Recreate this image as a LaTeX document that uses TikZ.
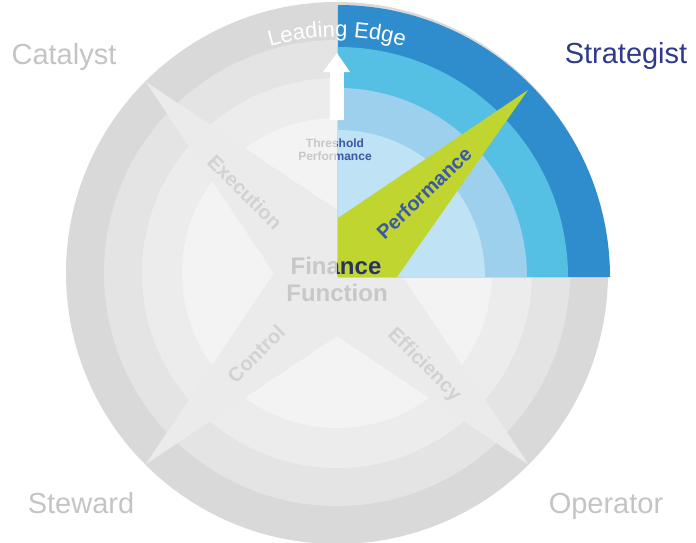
\documentclass[tikz,border=0pt]{standalone}
\usepackage{fontspec}
\setmainfont{Liberation Sans}
\usepackage{tikz}
\usetikzlibrary{positioning, decorations.text}

\definecolor{ringA}{HTML}{D9D9D9}
\definecolor{ringB}{HTML}{E4E4E4}
\definecolor{ringC}{HTML}{ECECEC}
\definecolor{ringD}{HTML}{F3F3F3}
\definecolor{armgrey}{HTML}{EBEBEB}
\definecolor{blueA}{HTML}{2F8DCD}
\definecolor{blueB}{HTML}{56BFE4}
\definecolor{blueC}{HTML}{9DD0EC}
\definecolor{blueD}{HTML}{BFE3F4}
\definecolor{lime}{HTML}{C0D530}
\definecolor{navy}{HTML}{2E3A8C}
\definecolor{navydark}{HTML}{283358}
\definecolor{perfblue}{HTML}{3A5AA8}
\definecolor{cornergrey}{HTML}{C4C4C4}
\definecolor{labelgrey}{HTML}{D2D2D2}
\definecolor{centregrey}{HTML}{C8C8C8}

\begin{document}
\begin{tikzpicture}[x=1pt, y=1pt,
    corner/.style={font=\fontsize{29}{29}\selectfont, text=cornergrey, inner sep=0pt, anchor=base},
    armlabel/.style={font=\bfseries\fontsize{20}{20}\selectfont, text=labelgrey, inner sep=0pt},
    centre/.style={font=\bfseries\fontsize{24}{24}\selectfont, text=centregrey, inner sep=0pt, anchor=base},
    small/.style={font=\bfseries\fontsize{12}{12}\selectfont, text=centregrey, inner sep=0pt, anchor=base}]

    \useasboundingbox (-337,-269) rectangle (359,273);

    \fill[ringA] (0,0) circle[radius=271pt];
    \fill[ringB] (0,0) circle[radius=233pt];
    \fill[ringC] (0,0) circle[radius=195pt];
    \fill[ringD] (0,0) circle[radius=155pt];
    \fill[armgrey] (45:271pt) -- (90:63pt) -- (135:271pt) -- (180:63pt)
        -- (225:271pt) -- (270:63pt) -- (315:271pt) -- (0:63pt) -- cycle;

    \begin{scope}[shift={(1,-4)}]
        \fill[blueA] (0,0) -- (272pt,0) arc[start angle=0, end angle=90, radius=272pt] -- cycle;
        \fill[blueB] (0,0) -- (230pt,0) arc[start angle=0, end angle=90, radius=230pt] -- cycle;
        \fill[blueC] (0,0) -- (189pt,0) arc[start angle=0, end angle=90, radius=189pt] -- cycle;
        \fill[blueD] (0,0) -- (147pt,0) arc[start angle=0, end angle=90, radius=147pt] -- cycle;
        \fill[lime] (0,59) -- (190,187) -- (59,0) -- (0,0) -- cycle;
    \end{scope}

    \fill[white] (-7,153) -- (-7,201) -- (-14,201) -- (0,220) -- (13,201) -- (7,201) -- (7,153) -- cycle;
    \path[decorate, decoration={text along path, text align=center,
        text={|\fontsize{22}{22}\selectfont\color{white}|Leading Edge}}]
        (0,-2) ++(120:238pt) arc[start angle=120, end angle=60, radius=238pt];

    \node[corner] (catalyst) at (-273,209) {Catalyst};
    \node[corner, text=navy] (strategist) at (289,210) {Strategist};
    \node[corner] (steward) at (-256,-240) {Steward};
    \node[corner] (operator) at (269,-240) {Operator};

    \node[armlabel, rotate=-45] (execution) at (-92,81) {Execution};
    \node[armlabel, rotate=-45] (efficiency) at (87,-92) {Efficiency};
    \node[armlabel, rotate=45] (control) at (-81,-81) {Control};

    \node[small] (threshold) at (-2,126) {Threshold};
    \node[small] (perfsmall) at (-2,113) {Performance};
    \node[centre] (finance) at (-1,-1) {Finance};
    \node[centre] (function) at (0,-28) {Function};
    \begin{scope}
        \clip (1,-4) rectangle (359,273);
        \node[small, text=perfblue] (thresholdblue) at (-2,126) {Threshold};
        \node[small, text=perfblue] (perfsmallblue) at (-2,113) {Performance};
        \node[centre, text=navydark] (financeblue) at (-1,-1) {Finance};
    \end{scope}

    \node[font=\bfseries\fontsize{20}{20}\selectfont, text=perfblue, rotate=43.5] (performance) at (87,80) {Performance};
\end{tikzpicture}
\end{document}
